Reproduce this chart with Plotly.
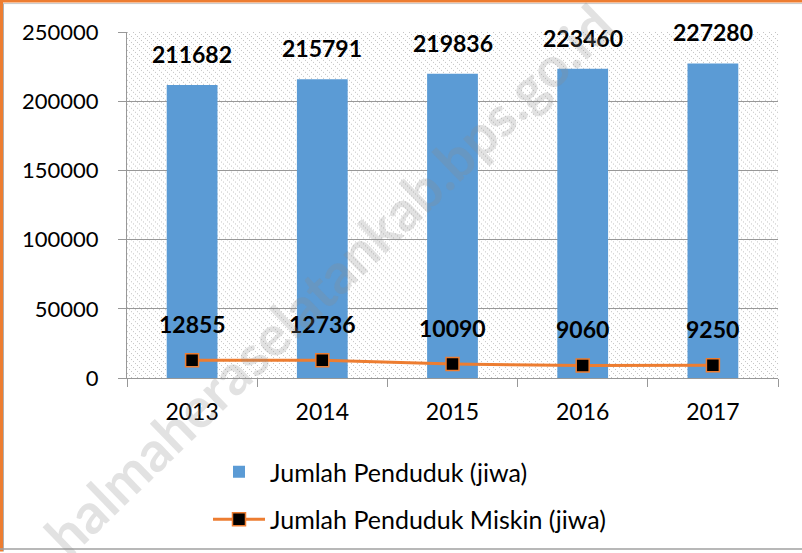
import base64
import plotly.graph_objects as go

years = ["2013", "2014", "2015", "2016", "2017"]
penduduk = [211682, 215791, 219836, 223460, 227280]
miskin = [12855, 12736, 10090, 9060, 9250]
y_ticks = [0, 50000, 100000, 150000, 200000, 250000]

FONT = "Lato"
BLUE = "#5B9BD5"
ORANGE = "#ED7D31"
GRID = "#989898"

# figure geometry (pixels)
W, H = 802, 553
ML, MR, MT, MB = 127, 24, 32, 174
PW, PH = W - ML - MR, H - MT - MB


def px_x(px):
    return (px - ML) / PW


def px_y(py):
    return (H - MB - py) / PH


# hatched background for the plot area, as an inline SVG image
tile = "".join(f'<rect x="{k}" y="{k}" width="1" height="1"/>' for k in (0, 2, 4))
hatch_svg = (
    f'<svg xmlns="http://www.w3.org/2000/svg" width="{PW}" height="{PH}" shape-rendering="crispEdges">'
    '<defs><pattern id="h" width="6" height="6" patternUnits="userSpaceOnUse">'
    f'<g fill="#c4c4c4">{tile}</g>'
    '</pattern></defs>'
    f'<rect width="{PW}" height="{PH}" fill="white"/>'
    f'<rect width="{PW}" height="{PH}" fill="url(#h)"/></svg>'
)
hatch_uri = "data:image/svg+xml;base64," + base64.b64encode(hatch_svg.encode()).decode()

fig = go.Figure()

fig.add_trace(go.Bar(
    x=years, y=penduduk, name="Jumlah Penduduk (jiwa)",
    marker=dict(color=BLUE, line=dict(width=0)),
    legendgroup="a",
))

fig.add_trace(go.Scatter(
    x=years, y=miskin, name="Jumlah Penduduk Miskin (jiwa)",
    mode="lines+markers",
    line=dict(color=ORANGE, width=3),
    marker=dict(symbol="square", size=13, color="black",
                line=dict(color=ORANGE, width=1.5)),
    legendgroup="b",
))

annotations = []
# category axis: annotations use the category index
for i, v in enumerate(penduduk):
    annotations.append(dict(x=i, y=v, xref="x", yref="y", text=str(v),
                            showarrow=False, yanchor="bottom", yshift=15,
                            font=dict(family=FONT, size=23, color="black", weight="bold")))
for i, v in enumerate(miskin):
    annotations.append(dict(x=i, y=v, xref="x", yref="y", text=str(v),
                            showarrow=False, yanchor="bottom", yshift=20,
                            font=dict(family=FONT, size=23, color="black", weight="bold")))

# watermark
annotations.append(dict(x=px_x(328), y=px_y(280), xref="paper", yref="paper",
                        xanchor="center", yanchor="middle",
                        text="halmaheraselatankab.bps.go.id", showarrow=False,
                        textangle=-44,
                        font=dict(family=FONT, size=56, color="rgba(140,140,140,0.25)",
                                  weight="bold")))

shapes = [
    dict(type="rect", xref="paper", yref="paper", x0=px_x(0), x1=px_x(3),
         y0=px_y(H), y1=px_y(0), fillcolor=ORANGE, line=dict(width=0), layer="above"),
    dict(type="rect", xref="paper", yref="paper", x0=px_x(0), x1=px_x(W),
         y0=px_y(2.5), y1=px_y(0), fillcolor=ORANGE, line=dict(width=0), layer="above"),
    dict(type="line", xref="paper", yref="paper", x0=px_x(3.5), x1=px_x(3.5),
         y0=px_y(H), y1=px_y(3), line=dict(color="#b0b0b0", width=1)),
    dict(type="line", xref="paper", yref="paper", x0=px_x(3), x1=px_x(W),
         y0=px_y(3.5), y1=px_y(3.5), line=dict(color="#c8c8c8", width=1)),
    dict(type="line", xref="paper", yref="paper", x0=px_x(0), x1=px_x(W),
         y0=px_y(550.5), y1=px_y(550.5), line=dict(color="#a0a0a0", width=1.5)),
]

fig.update_layout(
    width=W, height=H,
    margin=dict(l=ML, r=MR, t=MT, b=MB, pad=0),
    paper_bgcolor="white", plot_bgcolor="white",
    font=dict(family=FONT, size=22, color="black"),
    bargap=0.61,
    xaxis=dict(type="category", range=[-0.5, len(years) - 0.5],
               showline=True, linecolor=GRID, linewidth=1,
               ticks="outside", tickson="boundaries", ticklen=8, tickcolor=GRID,
               showgrid=False, ticklabelstandoff=13,
               tickfont=dict(family=FONT, size=23, color="black")),
    yaxis=dict(range=[0, 250000], tickvals=y_ticks, tickformat="d",
               showline=True, linecolor=GRID, linewidth=1,
               showgrid=True, gridcolor=GRID, gridwidth=1,
               ticks="outside", ticklen=8, tickcolor=GRID,
               ticklabelstandoff=15, zeroline=False,
               tickfont=dict(family=FONT, size=22, color="black")),
    legend=dict(x=px_x(208), y=px_y(449), xanchor="left", yanchor="top",
                orientation="v", tracegroupgap=12, itemwidth=52,
                font=dict(family=FONT, size=25, color="black"),
                bgcolor="rgba(0,0,0,0)"),
    images=[dict(source=hatch_uri, xref="paper", yref="paper", x=0, y=1,
                 sizex=1, sizey=1, xanchor="left", yanchor="top",
                 sizing="stretch", layer="below")],
    annotations=annotations,
    shapes=shapes,
)

fig.write_html("out.html", config={"displayModeBar": False},
               post_script="document.body.style.margin='0';")
